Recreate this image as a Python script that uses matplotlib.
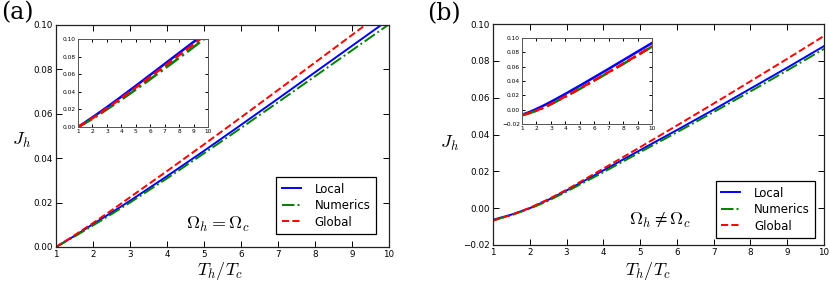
import matplotlib
matplotlib.use("Agg")
import matplotlib.pyplot as plt
import numpy as np

plt.rcParams['mathtext.fontset'] = 'cm'
plt.rcParams['font.family'] = ['DejaVu Sans']

# ---------------- data ----------------
x = [1, 1.5, 2, 2.5, 3, 4, 5, 6, 7, 8, 9, 10]

# panel (a) main
a_local = [0.0, 0.0050, 0.0103, 0.0155, 0.0208, 0.0319, 0.0433, 0.0550, 0.0668, 0.0787, 0.0906, 0.1025]
a_numer = [0.0, 0.0047, 0.0097, 0.0148, 0.0200, 0.0309, 0.0422, 0.0536, 0.0652, 0.0769, 0.0886, 0.1003]
a_global = [0.0, 0.0053, 0.0108, 0.0165, 0.0224, 0.0342, 0.0462, 0.0584, 0.0707, 0.0831, 0.0955, 0.1080]

# panel (a) inset
ai_local = [0.0, 0.0054, 0.0110, 0.0167, 0.0225, 0.0345, 0.0468, 0.0592, 0.0717, 0.0842, 0.0967, 0.1092]
ai_numer = [0.0, 0.0045, 0.0093, 0.0146, 0.0200, 0.0310, 0.0425, 0.0543, 0.0663, 0.0785, 0.0908, 0.1032]
ai_global = [0.0, 0.0048, 0.0100, 0.0155, 0.0212, 0.0328, 0.0448, 0.0570, 0.0693, 0.0817, 0.0941, 0.1065]

# panel (b) main
b_local = [-0.0063, -0.0035, 0.0000, 0.0045, 0.0096, 0.0205, 0.0315, 0.0424, 0.0535, 0.0649, 0.0763, 0.0880]
b_numer = [-0.0066, -0.0038, -0.0003, 0.0040, 0.0090, 0.0195, 0.0304, 0.0412, 0.0522, 0.0634, 0.0748, 0.0865]
b_global = [-0.0068, -0.0037, 0.0002, 0.0048, 0.0100, 0.0215, 0.0331, 0.0449, 0.0568, 0.0689, 0.0811, 0.0935]

# panel (b) inset
bi_local = [-0.0070, -0.0035, 0.0010, 0.0058, 0.0110, 0.0220, 0.0335, 0.0452, 0.0570, 0.0690, 0.0810, 0.0930]
bi_numer = [-0.0078, -0.0050, -0.0015, 0.0028, 0.0075, 0.0180, 0.0290, 0.0405, 0.0520, 0.0637, 0.0757, 0.0880]
bi_global = [-0.0076, -0.0047, -0.0012, 0.0031, 0.0078, 0.0185, 0.0295, 0.0410, 0.0525, 0.0643, 0.0762, 0.0885]

xticks = [1, 2, 3, 4, 5, 6, 7, 8, 9, 10]
a_yticks = [0.00, 0.02, 0.04, 0.06, 0.08, 0.10]
b_yticks = [-0.02, 0.00, 0.02, 0.04, 0.06, 0.08, 0.10]
labels = ['Local', 'Numerics', 'Global']

W, H = 830, 282
fig = plt.figure(figsize=(W / 100, H / 100), dpi=100)


def px_axes(l, r, t, b):
    return fig.add_axes([l / W, (H - b) / H, (r - l) / W, (b - t) / H])


def style(ax, fs, ticklen):
    ax.tick_params(direction='in', top=True, right=True, labelsize=fs,
                   length=ticklen, width=0.7, pad=2)
    for s in ax.spines.values():
        s.set_linewidth(0.9)
        s.set_color('#222222')


def fmt(v):
    return ('%.2f' % v).replace('-', '\u2212')


def draw_lines(ax, loc, num, glo, lw):
    ax.plot(x, loc, color='b', lw=lw, ls='-', label=labels[0])
    ax.plot(x, num, color='g', lw=lw, ls='-.', label=labels[1])
    ax.plot(x, glo, color='r', lw=lw, ls='--', label=labels[2])


panels = [
    dict(main=(56, 389, 25, 247), inset=(78, 208, 39, 127),
         d=(a_local, a_numer, a_global), di=(ai_local, ai_numer, ai_global),
         yt=a_yticks, ylim=(0.0, 0.10), leg=(0.961, 0.059),
         txt=r'$\Omega_h = \Omega_c$', txtpos=(0.487, 0.10),
         tag='(a)', tagpos=(17, 13), ylab=(21, 140), xlab=(220, 271)),
    dict(main=(493, 824, 24, 245), inset=(522, 652, 38, 124),
         d=(b_local, b_numer, b_global), di=(bi_local, bi_numer, bi_global),
         yt=b_yticks, ylim=(-0.02, 0.10), leg=(0.973, 0.032),
         txt=r'$\Omega_h \neq \Omega_c$', txtpos=(0.505, 0.11),
         tag='(b)', tagpos=(444, 14), ylab=(449, 143), xlab=(648, 271)),
]

for p in panels:
    ax = px_axes(*p['main'])
    draw_lines(ax, *p['d'], lw=1.4)
    ax.set_xlim(1, 10)
    ax.set_ylim(*p['ylim'])
    ax.set_xticks(xticks)
    ax.set_yticks(p['yt'])
    ax.set_yticklabels([fmt(v) for v in p['yt']])
    style(ax, 6.3, 4)
    leg = ax.legend(loc='lower right', bbox_to_anchor=p['leg'], fontsize=8.5,
                    fancybox=False, framealpha=1, edgecolor='black',
                    handlelength=1.6, handletextpad=1.2, borderaxespad=0,
                    labelspacing=0.3, borderpad=0.45)
    leg.get_frame().set_linewidth(0.9)
    ax.text(*p['txtpos'], p['txt'], transform=ax.transAxes, fontsize=13,
            ha='center', va='center')
    fig.text(p['tagpos'][0] / W, 1 - p['tagpos'][1] / H, p['tag'],
             fontsize=17, family='serif', math_fontfamily='cm',
             ha='center', va='center')
    fig.text(p['ylab'][0] / W, 1 - p['ylab'][1] / H, r'$J_h$', fontsize=13,
             ha='center', va='center')
    fig.text(p['xlab'][0] / W, 1 - p['xlab'][1] / H, r'$T_h/T_c$', fontsize=13,
             ha='center', va='center')

    ins = px_axes(*p['inset'])
    draw_lines(ins, *p['di'], lw=1.8)
    ins.set_xlim(1, 10)
    ins.set_ylim(*p['ylim'])
    ins.set_xticks(xticks)
    ins.set_yticks(p['yt'])
    ins.set_yticklabels([fmt(v) for v in p['yt']])
    style(ins, 4.2, 2.5)
    ins.tick_params(pad=1.5)
    for s in ins.spines.values():
        s.set_linewidth(0.7)
        s.set_color('#555555')

fig.savefig('out.png', dpi=100)
